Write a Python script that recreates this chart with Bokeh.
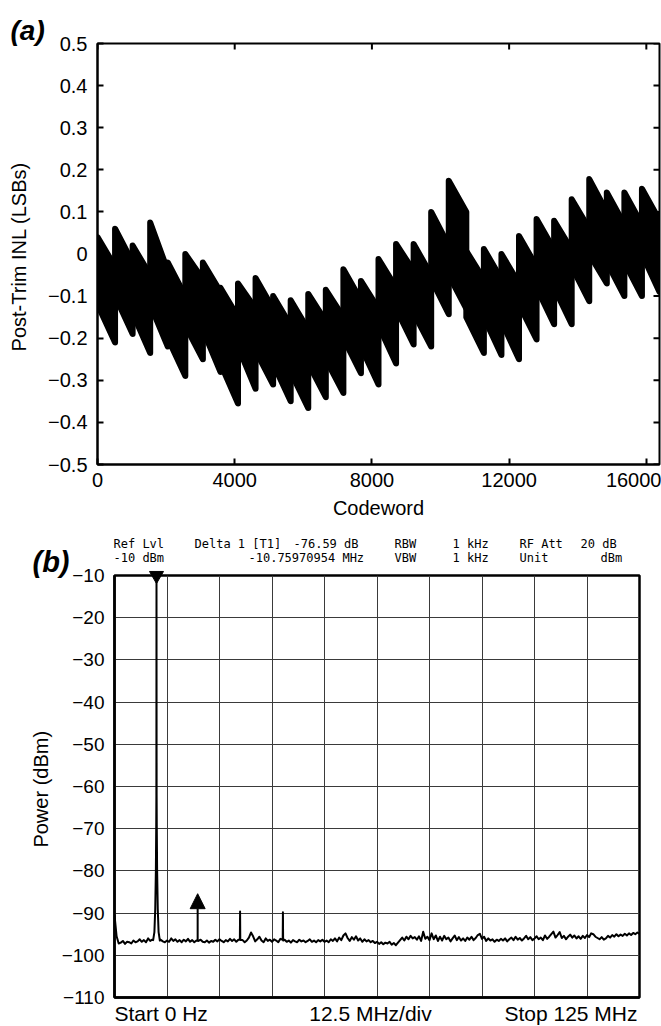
import numpy as np
from bokeh.plotting import figure
from bokeh.models import Range1d, FixedTicker, Arrow, NormalHead
from bokeh.layouts import column
from bokeh.embed import file_html
from bokeh.resources import INLINE
from bokeh.core.properties import value

# ---------------- data: panel (a) post-trim INL ----------------
SEG_LEN = 512  # codes per segment
top_start = [0.040, 0.060, 0.020, 0.075, -0.020, 0.000, -0.020, -0.080,
             -0.070, -0.057, -0.100, -0.110, -0.095, -0.085, -0.036, -0.064,
             -0.012, 0.024, 0.024, 0.100, 0.174, 0.007, 0.012, 0.000,
             0.043, 0.083, 0.079, 0.130, 0.178, 0.146, 0.146, 0.155]
top_end = [-0.030, -0.020, -0.050, -0.040, -0.100, -0.060, -0.090, -0.150,
           -0.130, -0.130, -0.170, -0.180, -0.160, -0.150, -0.110, -0.130,
           -0.080, -0.040, -0.050, 0.020, 0.100, -0.060, -0.060, -0.070,
           -0.030, 0.010, 0.010, 0.060, 0.100, 0.070, 0.070, 0.080]
bot_start = [-0.120, -0.100, -0.140, -0.120, -0.200, -0.170, -0.180, -0.260,
             -0.220, -0.230, -0.260, -0.280, -0.260, -0.250, -0.200, -0.220,
             -0.170, -0.130, -0.140, -0.060, -0.050, -0.150, -0.150, -0.160,
             -0.120, -0.080, -0.080, -0.030, 0.000, -0.020, -0.020, 0.000]
bot_end = [-0.210, -0.190, -0.235, -0.220, -0.290, -0.250, -0.280, -0.355,
           -0.320, -0.310, -0.350, -0.366, -0.340, -0.330, -0.283, -0.310,
           -0.260, -0.215, -0.220, -0.143, -0.130, -0.235, -0.240, -0.250,
           -0.203, -0.167, -0.167, -0.112, -0.070, -0.100, -0.100, -0.090]

x_ticks_a = [0, 4000, 8000, 12000, 16000]
y_ticks_a = [-0.5, -0.4, -0.3, -0.2, -0.1, 0, 0.1, 0.2, 0.3, 0.4, 0.5]
y_labels_a = ["\u22120.5", "\u22120.4", "\u22120.3", "\u22120.2", "\u22120.1", "0",
              "0.1", "0.2", "0.3", "0.4", "0.5"]

# ---------------- data: panel (b) spectrum ----------------
floor_step = 0.5  # MHz between trace samples
floor_dbm = [
    -90.5, -95.5, -97.2, -97.0, -96.6, -97.3, -96.8, -96.9, -97.2, -96.5,
    -96.9, -96.7, -96.2, -96.8, -96.4, -96.9, -96.0, -96.6, -96.3, -96.5,
    -96.5, -96.4, -96.3, -96.7, -96.9, -96.5, -96.8, -96.0, -96.6, -96.2,
    -96.8, -96.4, -96.9, -96.3, -96.7, -96.1, -96.8, -96.4, -96.9, -96.5,
    -96.6, -96.3, -96.8, -96.9, -96.5, -97.0, -96.6, -96.8, -96.3, -96.7,
    -96.2, -96.6, -96.9, -96.4, -96.7, -96.1, -96.6, -96.2, -96.8, -96.3,
    -96.5, -96.4, -96.9, -96.5, -95.8, -94.6, -95.5, -96.7, -96.2, -95.6,
    -96.5, -96.9, -96.0, -96.6, -96.3, -96.8, -96.2, -96.5, -96.9, -96.1,
    -96.5, -96.3, -96.8, -96.5, -97.0, -96.4, -96.7, -96.9, -96.3, -96.7,
    -96.5, -96.9, -96.6, -96.2, -96.8, -96.5, -96.9, -96.4, -96.7, -96.3,
    -96.8, -96.5, -96.9, -96.2, -96.6, -96.0, -96.7, -95.8, -96.4, -95.3,
    -94.8, -95.9, -96.6, -95.7, -96.3, -95.5, -96.5, -96.0, -96.8, -96.2,
    -96.7, -96.4, -96.9, -96.6, -97.1, -96.8, -97.3, -96.9, -97.4, -97.0,
    -97.2, -96.8, -97.5, -97.1, -97.6, -97.0, -96.4, -95.8, -96.5, -95.6,
    -96.2, -95.4, -96.0, -95.7, -96.3, -95.5, -96.6, -94.4, -96.1, -95.6,
    -96.4, -94.8, -96.2, -95.3, -96.6, -95.6, -96.5, -95.4, -96.2, -95.8,
    -96.7, -96.0, -95.3, -96.4, -95.7, -96.5, -96.0, -96.6, -95.8, -96.3,
    -95.6, -96.4, -95.9, -95.2, -94.9, -96.1, -95.6, -96.6, -96.0, -96.5,
    -96.2, -96.8, -96.3, -96.6, -96.1, -96.5, -96.0, -96.7, -96.2, -95.8,
    -96.4, -95.6, -96.3, -95.9, -96.5, -96.0, -95.4, -96.2, -95.7, -96.4,
    -96.0, -95.5, -96.2, -95.8, -96.4, -95.3, -96.1, -95.6, -95.0, -94.4,
    -95.8, -95.2, -94.5, -95.9, -95.4, -96.2, -95.6, -95.1, -95.8, -95.3,
    -96.0, -95.5, -96.1, -95.4, -95.9, -95.2, -95.7, -94.8, -95.0, -95.6,
    -95.9, -96.2, -95.7, -96.3, -96.0, -95.4, -95.8, -95.2, -95.6, -95.0,
    -95.5, -95.1, -95.4, -94.9, -95.3, -94.8, -95.2, -94.7, -95.0, -94.6,
    -94.9]
carrier_freq = [9.2, 9.5, 9.7, 9.85, 9.93, 9.97, 10.0, 10.03, 10.07, 10.15, 10.3, 10.5, 10.8]
carrier_dbm = [-96.4, -94.5, -89.0, -80.0, -70.0, -62.0, -10.0, -62.0, -70.0, -80.0, -89.0, -94.5, -96.5]
spur_freq = [29.85, 29.9, 29.95, 40.05, 40.1, 40.15]
spur_dbm = [-96.3, -89.6, -96.4, -96.3, -89.8, -96.5]
marker1_freq, marker1_dbm = 10.0, -10.0
marker2_freq, marker2_base, marker2_tip = 19.8, -96.5, -85.4

y_ticks_b = [-110, -100, -90, -80, -70, -60, -50, -40, -30, -20, -10]
x_grid_b = [0, 12.5, 25, 37.5, 50, 62.5, 75, 87.5, 100, 112.5, 125]

header_row1 = ["Ref Lvl", "Delta 1 [T1]", "-76.59 dB", "RBW", "1 kHz", "RF Att", "20 dB"]
header_row2 = ["-10 dBm", "-10.75970954 MHz", "VBW", "1 kHz", "Unit", "dBm"]
bottom_texts = ["Start 0 Hz", "12.5 MHz/div", "Stop 125 MHz"]

FONT = "Liberation Sans"
MONO = "DejaVu Sans Mono"

# ---------------- panel (a) ----------------
A_W, A_H = 661, 530
p1 = figure(width=A_W, height=A_H, x_range=Range1d(0, 16384), y_range=Range1d(-0.5, 0.5),
            output_backend="svg", toolbar_location=None, frame_align=False,
            min_border_left=97, min_border_right=2, min_border_top=43, min_border_bottom=66)
p1.grid.visible = False
p1.outline_line_color = "black"
p1.outline_line_width = 2

xs = [[i * SEG_LEN, (i + 1) * SEG_LEN, (i + 1) * SEG_LEN, i * SEG_LEN] for i in range(len(top_start))]
ys = [[top_start[i], top_end[i], bot_end[i], bot_start[i]] for i in range(len(top_start))]
p1.patches(xs, ys, fill_color="black", line_color="black", line_width=6, line_join="round")

# mirrored inward ticks on the top and right edges (half of each dash is clipped by the frame)
p1.scatter(x_ticks_a, [p1.y_range.end] * len(x_ticks_a), marker="dash", angle=np.pi / 2,
           size=12, line_color="black", line_width=2)
p1.scatter([p1.x_range.end] * len(y_ticks_a), y_ticks_a, marker="dash",
           size=12, line_color="black", line_width=2)

def style_axis(ax, size):
    ax.axis_line_width = 2
    ax.axis_line_color = "black"
    ax.major_tick_in = 6
    ax.major_tick_out = 0
    ax.major_tick_line_width = 2
    ax.minor_tick_line_color = None
    ax.minor_tick_in = 0
    ax.minor_tick_out = 0
    ax.major_label_text_font = FONT
    ax.major_label_text_font_size = size
    ax.major_label_text_color = "black"
    ax.axis_label_text_font = FONT
    ax.axis_label_text_font_size = "20px"
    ax.axis_label_text_font_style = "normal"
    ax.axis_label_text_color = "black"

xa = p1.xaxis[0]
xa.ticker = FixedTicker(ticks=x_ticks_a)
xa.axis_label = "Codeword"
style_axis(xa, "20px")
xa.major_label_standoff = 8
xa.axis_label_standoff = 7
ya = p1.yaxis[0]
ya.ticker = FixedTicker(ticks=y_ticks_a)
ya.major_label_overrides = dict(zip(y_ticks_a, y_labels_a))
ya.axis_label = "Post-Trim INL  (LSBs)"
style_axis(ya, "20px")
ya.major_label_standoff = 10
ya.axis_label_standoff = 15

px_per_code = (A_W - 97 - 2) / 16384.0
ta = p1.text(x=[(10 - 97) / px_per_code], y=[0.5 + (43 - 30.0) / 421.0], text=["(a)"],
             text_font=value(FONT), text_font_size="28px", text_font_style="bold italic",
             text_align="left", text_baseline="middle", text_color="black")
ta.level = "overlay"

# ---------------- panel (b) ----------------
B_W, B_H = 661, 496
p2 = figure(width=B_W, height=B_H, x_range=Range1d(0, 125), y_range=Range1d(-110, -10),
            output_backend="svg", toolbar_location=None, frame_align=False,
            min_border_left=114, min_border_right=22, min_border_top=45, min_border_bottom=29)
p2.outline_line_color = "black"
p2.outline_line_width = 2.5

ff = np.arange(len(floor_dbm)) * floor_step
fd = np.array(floor_dbm)
keep = (ff < carrier_freq[0]) | (ff > carrier_freq[-1])
for k in range(0, len(spur_freq), 3):
    keep &= np.abs(ff - spur_freq[k + 1]) > 0.3
all_f = np.concatenate([ff[keep], carrier_freq, spur_freq])
all_d = np.concatenate([fd[keep], carrier_dbm, spur_dbm])
order = np.argsort(all_f, kind="stable")
p2.line(all_f[order], all_d[order], line_color="black", line_width=2, line_join="round")

p2.xgrid.ticker = FixedTicker(ticks=x_grid_b)
p2.ygrid.ticker = FixedTicker(ticks=y_ticks_b)
for g in (p2.xgrid[0], p2.ygrid[0]):
    g.grid_line_color = "#3a3a3a"
    g.grid_line_width = 1
    g.grid_line_alpha = 1.0

xb = p2.xaxis[0]
xb.ticker = FixedTicker(ticks=[])
xb.major_tick_line_color = None
xb.minor_tick_line_color = None
xb.axis_line_width = 2.5
yb = p2.yaxis[0]
yb.ticker = FixedTicker(ticks=y_ticks_b)
yb.major_label_overrides = {t: ("\u2212" + str(-t)) for t in y_ticks_b}
yb.major_label_text_font = FONT
yb.major_label_text_font_size = "19px"
yb.major_label_text_color = "black"
yb.major_tick_line_color = None
yb.minor_tick_line_color = None
yb.major_tick_out = 0
yb.minor_tick_out = 0
yb.axis_line_width = 2.5
yb.major_label_standoff = 10
yb.axis_label = "Power  (dBm)"
yb.axis_label_text_font = FONT
yb.axis_label_text_font_size = "20px"
yb.axis_label_text_font_style = "normal"
yb.axis_label_text_color = "black"
yb.axis_label_standoff = 7

m1 = p2.scatter([marker1_freq], [marker1_dbm], marker="inverted_triangle", size=14,
                fill_color="black", line_color="black")
m1.level = "overlay"
p2.add_layout(Arrow(x_start=marker2_freq, y_start=marker2_base, x_end=marker2_freq, y_end=marker2_tip,
                    line_width=2, line_color="black",
                    end=NormalHead(size=15, fill_color="black", line_color="black")))

def px2x(px):
    return (px - 114) / 4.2

def py2y(py):
    return -10 - (py - 575) / 4.22

def add_texts(fig, xs_, ys_, texts, font, size, align, style="normal"):
    r = fig.text(x=xs_, y=ys_, text=texts, text_font=value(font), text_font_size=size,
                 text_font_style=style, text_align=align, text_baseline="middle",
                 text_color="black")
    r.level = "overlay"
    return r

# bottom annotations (y = vertical centre of the text)
add_texts(p2, [px2x(114)], [py2y(1013)], [bottom_texts[0]], FONT, "21px", "left")
add_texts(p2, [px2x(370)], [py2y(1013)], [bottom_texts[1]], FONT, "21px", "center")
add_texts(p2, [px2x(637)], [py2y(1013)], [bottom_texts[2]], FONT, "21px", "right")

# instrument header
row1_px = [113, 194, 293, 394, 452, 519, 580]
row2_px = [113, 248, 394, 452, 519, 600]
add_texts(p2, [px2x(v) for v in row1_px], [py2y(543.5)] * len(row1_px), header_row1, MONO, "12px", "left")
add_texts(p2, [px2x(v) for v in row2_px], [py2y(557.5)] * len(row2_px), header_row2, MONO, "12px", "left")

add_texts(p2, [px2x(32)], [py2y(561)], ["(b)"], FONT, "29px", "left", style="bold italic")

layout = column(p1, p2, spacing=0)
open("out.html", "w").write(file_html(layout, INLINE))
